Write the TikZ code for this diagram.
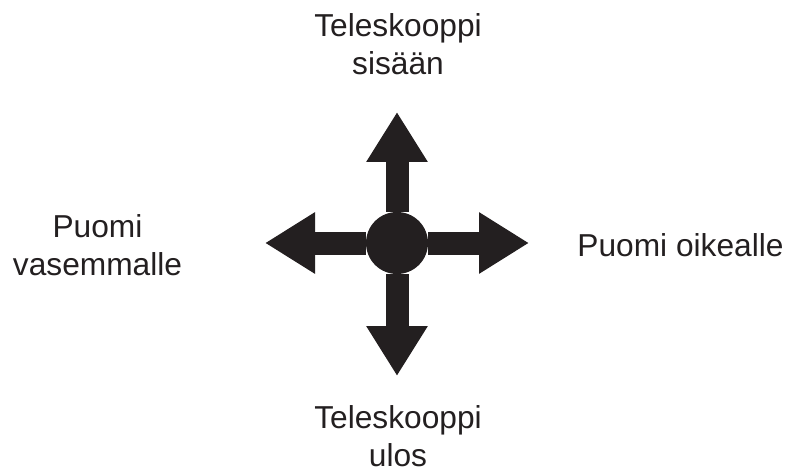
\documentclass[tikz,border=0pt]{standalone}
\usepackage{fontspec}
\setmainfont{Liberation Sans}
\usepackage{xcolor}
\usepackage{tikz}
\usetikzlibrary{
	arrows.meta,
	positioning
	}
\definecolor{encre}{HTML}{231F20}
\tikzstyle{moyeu-std}=[draw=none,fill=encre,circle,inner sep=0pt,minimum size=31pt]
\tikzstyle{bras-std}=[draw=encre,line width=11.5pt,-{Triangle[length=25pt,width=29pt,fill=encre]}]
\tikzstyle{texte-std}=[text=encre,align=center,inner sep=0pt,font=\fontsize{15.85}{19}\selectfont]

\begin{document}
\begin{tikzpicture}[x=0.5pt,y=0.5pt]
\useasboundingbox (0,0) rectangle (803,472);
\node[moyeu-std] (moyeu) at (397,229) {};
\coordinate (pointeH) at (397,360);
\coordinate (pointeB) at (397,96);
\coordinate (pointeG) at (265,229);
\coordinate (pointeD) at (529,229);

\draw[bras-std] (moyeu) -- (pointeH);
\draw[bras-std] (moyeu) -- (pointeB);
\draw[bras-std] (moyeu) -- (pointeG);
\draw[bras-std] (moyeu) -- (pointeD);

\node[texte-std] (haut) at (398,428) {Teleskooppi\\sisään};
\node[texte-std] (bas) at (398,36) {Teleskooppi\\ulos};
\node[texte-std] (gauche) at (97.5,227) {Puomi\\vasemmalle};
\node[texte-std] (droite) at (680.5,227) {Puomi oikealle};
\end{tikzpicture}
\end{document}
